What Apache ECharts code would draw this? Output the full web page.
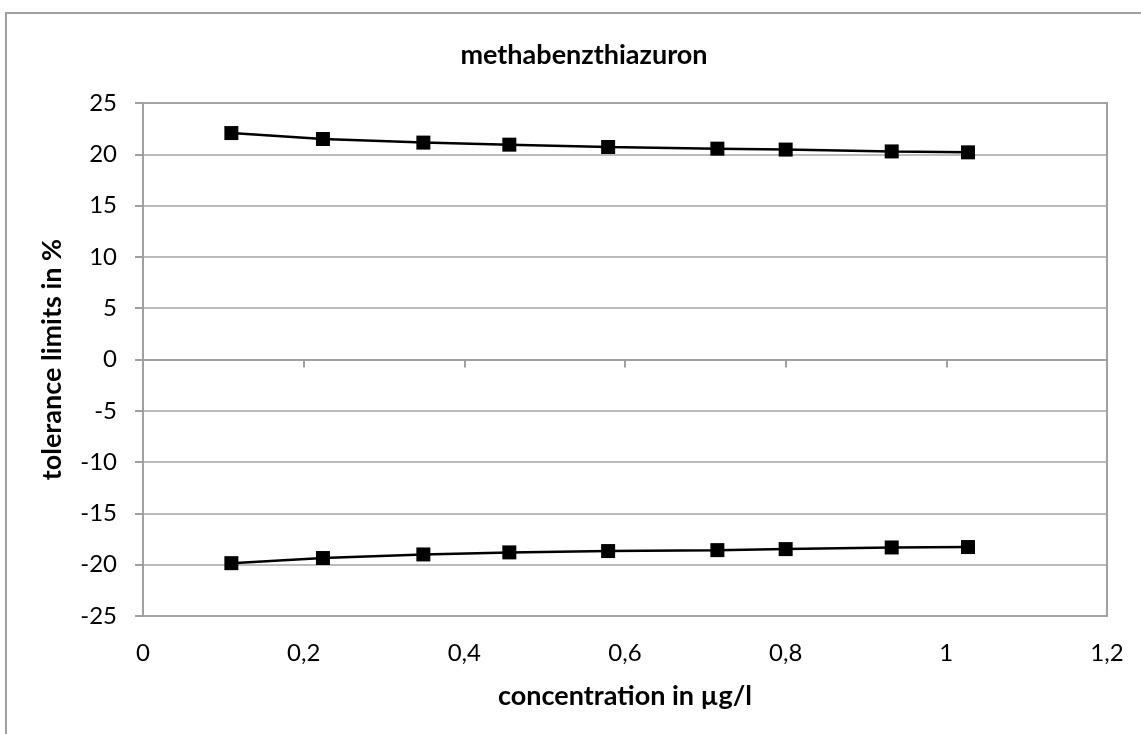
<!DOCTYPE html>
<html>
<head>
<meta charset="utf-8">
<script src="https://cdn.jsdelivr.net/npm/echarts@6/dist/echarts.min.js"></script>
<style>
  html, body { margin: 0; padding: 0; background: #fff; }
  #chart { width: 1141px; height: 734px; }
</style>
</head>
<body>
<div id="chart"></div>
<script>
// concentration in ug/l
var conc = [0.110, 0.224, 0.349, 0.456, 0.579, 0.715, 0.800, 0.932, 1.027];
var upperLimit = [22.07, 21.49, 21.14, 20.94, 20.71, 20.55, 20.46, 20.28, 20.19];
var lowerLimit = [-19.85, -19.35, -19.0, -18.80, -18.67, -18.58, -18.48, -18.32, -18.28];
var yTicks = [-25, -20, -15, -10, -5, 0, 5, 10, 15, 20, 25];

var font = 'Lato, "Open Sans", sans-serif';

function pairs(xs, ys) {
    var out = [];
    for (var i = 0; i < xs.length; i++) out.push([xs[i], ys[i]]);
    return out;
}

var chart = echarts.init(document.getElementById('chart'));

var opt = {
    animation: false,
    title: {
        text: 'methabenzthiazuron',
        left: 579,
        top: 37,
        textAlign: 'center',
        textStyle: { fontFamily: font, fontSize: 27, fontWeight: 'bold', color: '#000' }
    },
    graphic: [{
        type: 'rect',
        shape: { x: 6, y: 13, width: 1200, height: 800 },
        style: { fill: 'none', stroke: '#a0a0a0', lineWidth: 2 },
        silent: true
    }],
    grid: {
        left: 143,
        right: 34,
        top: 103,
        bottom: 118,
        show: true,
        borderColor: '#a0a0a0',
        borderWidth: 2,
        backgroundColor: '#fff'
    },
    xAxis: [
        {
            type: 'value',
            min: 0,
            max: 1.2,
            interval: 0.2,
            position: 'bottom',
            axisLine: { show: false, onZero: false },
            axisTick: { show: false },
            splitLine: { show: false },
            axisLabel: {
                margin: 25,
                fontFamily: font,
                fontSize: 24,
                color: '#000',
                formatter: function (v) { return String(+v.toFixed(1)).replace('.', ','); }
            },
            name: 'concentration in µg/l',
            nameLocation: 'middle',
            nameGap: 67,
            nameTextStyle: { fontFamily: font, fontSize: 27, fontWeight: 'bold', color: '#000' }
        },
        {
            type: 'value',
            min: 0,
            max: 1.2,
            interval: 0.2,
            position: 'bottom',
            axisLine: { show: true, onZero: true, lineStyle: { color: '#a0a0a0', width: 2 } },
            axisTick: { show: true, inside: false, length: 8, lineStyle: { color: '#a0a0a0', width: 2 } },
            axisLabel: { show: false },
            splitLine: { show: false }
        }
    ],
    yAxis: {
        type: 'value',
        min: yTicks[0],
        max: yTicks[yTicks.length - 1],
        interval: 5,
        axisLine: { show: true, lineStyle: { color: '#a0a0a0', width: 2 } },
        axisTick: { show: true, length: 8, lineStyle: { color: '#a0a0a0', width: 2 } },
        axisLabel: { margin: 26, fontFamily: font, fontSize: 24, color: '#000' },
        splitLine: { show: true, lineStyle: { color: '#a6a6a6', width: 1.5 } },
        name: 'tolerance limits in %',
        nameLocation: 'middle',
        nameGap: 77,
        nameTextStyle: { fontFamily: font, fontSize: 27, fontWeight: 'bold', color: '#000' }
    },
    series: [
        {
            name: 'upper',
            type: 'line',
            xAxisIndex: 0,
            data: pairs(conc, upperLimit),
            symbol: 'rect',
            symbolSize: 14,
            itemStyle: { color: '#000' },
            lineStyle: { color: '#000', width: 2.5 }
        },
        {
            name: 'lower',
            type: 'line',
            xAxisIndex: 0,
            data: pairs(conc, lowerLimit),
            symbol: 'rect',
            symbolSize: 14,
            itemStyle: { color: '#000' },
            lineStyle: { color: '#000', width: 2.5 }
        }
    ]
};

chart.setOption(opt);
</script>
</body>
</html>
